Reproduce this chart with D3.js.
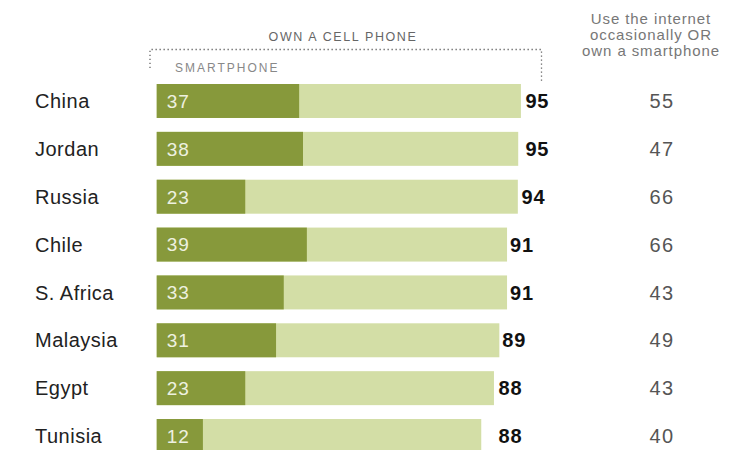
<!DOCTYPE html>
<html><head><meta charset="utf-8">
<script src="https://cdn.jsdelivr.net/npm/d3@7/dist/d3.min.js"></script>
<style>body{margin:0;background:#fff}</style>
</head><body><svg id="c" width="748" height="450"></svg>
<script>
const countries = ["China","Jordan","Russia","Chile","S. Africa","Malaysia","Egypt","Tunisia"];
const smartphone = [37,38,23,39,33,31,23,12];
const cellBar = [94.6,93.9,93.8,91,91,89,87.6,84.3];
const cellLabels = [95,95,94,91,91,89,88,88];
const internetOrSmart = [55,47,66,66,43,49,43,40];
const headerRight = ["Use the internet","occasionally OR","own a smartphone"];

const svg = d3.select("#c");
const font = "'Liberation Sans', Arial, sans-serif";
const x = d3.scaleLinear().domain([0,100]).range([156.7,541.7]);
const y = d3.scaleBand().domain(countries).range([84,453]).paddingInner(0.29).paddingOuter(0);

const rows = svg.selectAll("g.row").data(countries).join("g").attr("class","row")
  .attr("transform", d => `translate(0,${y(d)})`);
const bh = y.bandwidth();

rows.append("rect").attr("x", x(0)).attr("y",0).attr("height",bh)
  .attr("width",(d,i)=>x(cellBar[i])-x(0)).attr("fill","#d3dea6");
rows.append("rect").attr("x", x(0)).attr("y",0).attr("height",bh)
  .attr("width",(d,i)=>x(smartphone[i])-x(0)).attr("fill","#87993b");

rows.append("text").attr("x",35).attr("y",bh/2).attr("dy","0.36em")
  .attr("font-family",font).attr("font-size",20).attr("letter-spacing",0.5).attr("fill","#222").text(d=>d);
rows.append("text").attr("x",x(0)+10).attr("y",bh/2).attr("dy","0.36em")
  .attr("font-family",font).attr("font-size",19).attr("letter-spacing",1).attr("fill","#eef1e0").text((d,i)=>smartphone[i]);
rows.append("text").attr("x",(d,i)=>x(cellLabels[i])+3).attr("y",bh/2).attr("dy","0.36em")
  .attr("font-family",font).attr("font-size",20).attr("letter-spacing",0.8).attr("font-weight","bold").attr("fill","#111").text((d,i)=>cellLabels[i]);
rows.append("text").attr("x",662).attr("y",bh/2).attr("dy","0.36em").attr("text-anchor","middle")
  .attr("font-family",font).attr("font-size",20).attr("letter-spacing",1.5).attr("fill","#555").text((d,i)=>internetOrSmart[i]);

// header right
svg.append("text").attr("x",651).attr("y",23.5).attr("text-anchor","middle")
  .attr("font-family",font).attr("font-size",15).attr("letter-spacing",0.9).attr("fill","#777")
  .selectAll("tspan").data(headerRight).join("tspan").attr("x",651).attr("dy",(d,i)=>i?16:0).text(d=>d);

// own a cell phone
svg.append("text").attr("x",343).attr("y",41).attr("text-anchor","middle")
  .attr("font-family",font).attr("font-size",12.5).attr("letter-spacing",1.6).attr("fill","#666").text("OWN A CELL PHONE");
svg.append("path").attr("d",`M150,68 V49.5 H541.5 V82`).attr("fill","none")
  .attr("stroke","#666").attr("stroke-width",1.3).attr("stroke-dasharray","1.3,2.7");
svg.append("text").attr("x",175).attr("y",72).attr("font-family",font).attr("font-size",12)
  .attr("letter-spacing",2).attr("fill","#888").text("SMARTPHONE");
</script></body></html>
